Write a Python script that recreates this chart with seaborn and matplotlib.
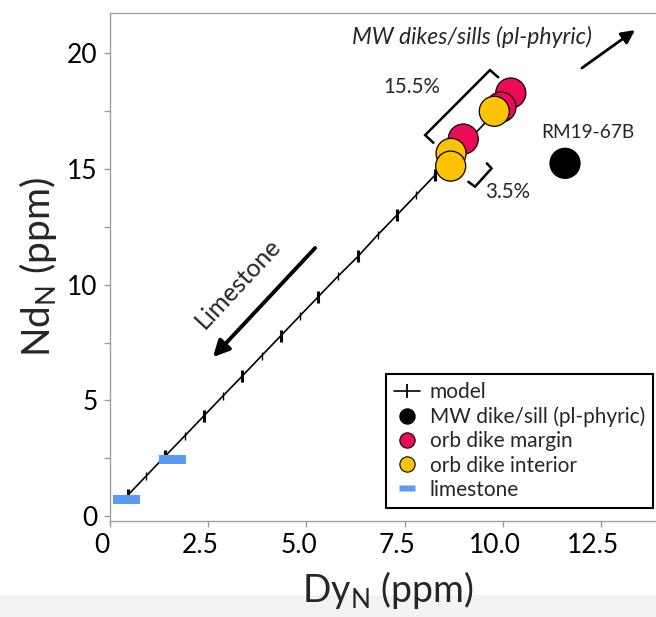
import matplotlib
matplotlib.use("Agg")
import matplotlib.pyplot as plt
import numpy as np
import pandas as pd
import seaborn as sns
from matplotlib.lines import Line2D
from matplotlib.path import Path
from matplotlib.patches import Rectangle
from matplotlib.transforms import ScaledTranslation

# --- data -------------------------------------------------------------
# limestone assimilation model, 5 % increments (Dy_N, Nd_N)
model_dy = [0.46, 0.92, 1.41, 1.90, 2.39, 2.88, 3.37, 3.86, 4.35, 4.83, 5.30,
            5.81, 6.32, 6.81, 7.30, 7.79, 8.27, 8.76, 9.25, 9.74, 10.23]
model_nd = [0.91, 1.73, 2.60, 3.46, 4.33, 5.20, 6.06, 6.93, 7.80, 8.65, 9.48,
            10.38, 11.24, 12.15, 13.01, 13.88, 14.74, 15.61, 16.47, 17.34, 18.21]

sample_group = ["orb dike margin", "orb dike margin", "orb dike margin",
                "orb dike interior", "orb dike interior", "orb dike interior",
                "MW dike/sill (pl-phyric)"]
sample_dy = [10.20, 9.95, 8.99, 9.78, 8.68, 8.67, 11.58]
sample_nd = [18.29, 17.68, 16.30, 17.50, 15.68, 15.13, 15.25]

lime_dy = [0.42, 1.59]
lime_nd = [0.70, 2.43]

x_ticks = [0, 2.5, 5.0, 7.5, 10.0, 12.5]
x_ticklabels = ["0", "2.5", "5.0", "7.5", "10.0", "12.5"]
y_ticks = [0, 2.5, 5, 7.5, 10, 12.5, 15, 17.5, 20]
y_ticklabels = ["0", "", "5", "", "10", "", "15", "", "20"]

palette = {"orb dike margin": "#EE0A5A",
           "orb dike interior": "#FDC300",
           "MW dike/sill (pl-phyric)": "#000000"}
lime_color = "#5B9AF7"

# --- style ------------------------------------------------------------
sns.set_theme(style="white")
plt.rcParams["font.family"] = ["Lato", "DejaVu Sans"]
plt.rcParams["mathtext.default"] = "regular"

W, H = 656, 617
fig = plt.figure(figsize=(W / 100, H / 100), dpi=100)
ax = fig.add_axes([110 / W, 1 - 520.5 / H, 556 / W, 507.5 / H])
fig.add_artist(Rectangle((0, 0), 1, 22 / H, transform=fig.transFigure,
                         facecolor="#f3f3f3", edgecolor="none", zorder=-1))

# --- model line with increment ticks ----------------------------------
sns.lineplot(x=model_dy, y=model_nd, sort=False, estimator=None,
             color="black", lw=1.2, ax=ax, zorder=2)
ax.plot(model_dy[::2], model_nd[::2], ls="none", marker="|", ms=9, mew=2.2,
        color="black", zorder=2)
ax.plot(model_dy[1::2], model_nd[1::2], ls="none", marker="|", ms=6, mew=1.0,
        color="black", zorder=2)

# --- limestone end-members ---------------------------------------------
rect = Path([(-1, -0.35), (1, -0.35), (1, 0.35), (-1, 0.35), (-1, -0.35)],
            closed=True)
sns.scatterplot(x=lime_dy, y=lime_nd, marker=rect, s=369, color=lime_color,
                edgecolor="none", linewidth=0, ax=ax, zorder=3, legend=False)

# --- samples -------------------------------------------------------------
samples = pd.DataFrame({"group": sample_group, "Dy": sample_dy, "Nd": sample_nd})
sns.scatterplot(data=samples, x="Dy", y="Nd", hue="group", palette=palette,
                s=467, edgecolor="black", linewidth=0.9, ax=ax, zorder=4,
                legend=False)

# --- annotations -------------------------------------------------------
ax.annotate("", xy=(2.62, 6.87), xytext=(5.22, 11.59),
            arrowprops=dict(arrowstyle="-|>", lw=2.8, color="black",
                            mutation_scale=24, shrinkA=0, shrinkB=0))
ax.text(3.26, 10.05, "Limestone", rotation=47, ha="center", va="center",
        fontsize=18)

ax.annotate("", xy=(13.36, 21.01), xytext=(12.01, 19.37),
            arrowprops=dict(arrowstyle="-|>", lw=2.0, color="black",
                            mutation_scale=20, shrinkA=0, shrinkB=0))
ax.text(9.21, 20.71, "MW dikes/sills (pl-phyric)", style="italic",
        ha="center", va="center", fontsize=16.5)

ax.plot([9.88, 9.67, 8.02, 8.23], [18.97, 19.28, 16.47, 16.14],
        color="black", lw=1.8, solid_joinstyle="miter", zorder=5)
ax.text(7.68, 18.55, "15.5%", ha="center", va="center", fontsize=14.8)
ax.plot([9.59, 9.71, 9.29, 9.12], [15.25, 15.03, 14.24, 14.45],
        color="black", lw=1.8, solid_joinstyle="miter", zorder=5)
ax.text(10.13, 14.0, "3.5%", ha="center", va="center", fontsize=14.8)
ax.text(12.16, 16.6, "RM19-67B", ha="center", va="center", fontsize=13.7)

# --- axes ------------------------------------------------------------------
ax.set_xlim(0, 14.15)
ax.set_ylim(-0.195, 21.75)
ax.set_xticks(x_ticks)
ax.set_xticklabels(x_ticklabels)
ax.set_yticks(y_ticks)
ax.set_yticklabels(y_ticklabels)
ax.tick_params(direction="out", length=4, width=1, color="#999999",
               labelsize=19, pad=5, labelcolor="black")
ax.tick_params(axis="x", bottom=True)
ax.tick_params(axis="y", left=True)
shift = ScaledTranslation(-8 / 100, 0, fig.dpi_scale_trans)
for lbl in ax.get_xticklabels():
    lbl.set_transform(lbl.get_transform() + shift)
for sp in ax.spines.values():
    sp.set_color("#a0a0a0")
    sp.set_linewidth(1.0)

ax.set_xlabel("Dy$_N$ (ppm)", fontsize=27, labelpad=8)
ax.set_ylabel("Nd$_N$ (ppm)", fontsize=28, labelpad=6)

# --- legend -------------------------------------------------------------
handles = [
    Line2D([], [], color="black", lw=1.2, marker="|", ms=10, mew=1.3,
           label="model"),
    Line2D([], [], ls="none", marker="o", ms=11, mfc=palette["MW dike/sill (pl-phyric)"],
           mec="black", mew=0.8, label="MW dike/sill (pl-phyric)"),
    Line2D([], [], ls="none", marker="o", ms=11, mfc=palette["orb dike margin"],
           mec="black", mew=0.8, label="orb dike margin"),
    Line2D([], [], ls="none", marker="o", ms=11, mfc=palette["orb dike interior"],
           mec="black", mew=0.8, label="orb dike interior"),
    Line2D([], [], ls="none", marker=rect, ms=12, mfc=lime_color, mec="none",
           label="limestone"),
]
leg = ax.legend(handles=handles, loc="lower left", bbox_to_anchor=(0.496, 0.0246),
                frameon=True, fancybox=False, edgecolor="black", framealpha=1,
                fontsize=15, handlelength=1.25, handletextpad=0.45,
                labelspacing=0.2, borderpad=0.4, borderaxespad=0)
leg.get_frame().set_linewidth(1.5)

fig.savefig("out.png", dpi=100)
